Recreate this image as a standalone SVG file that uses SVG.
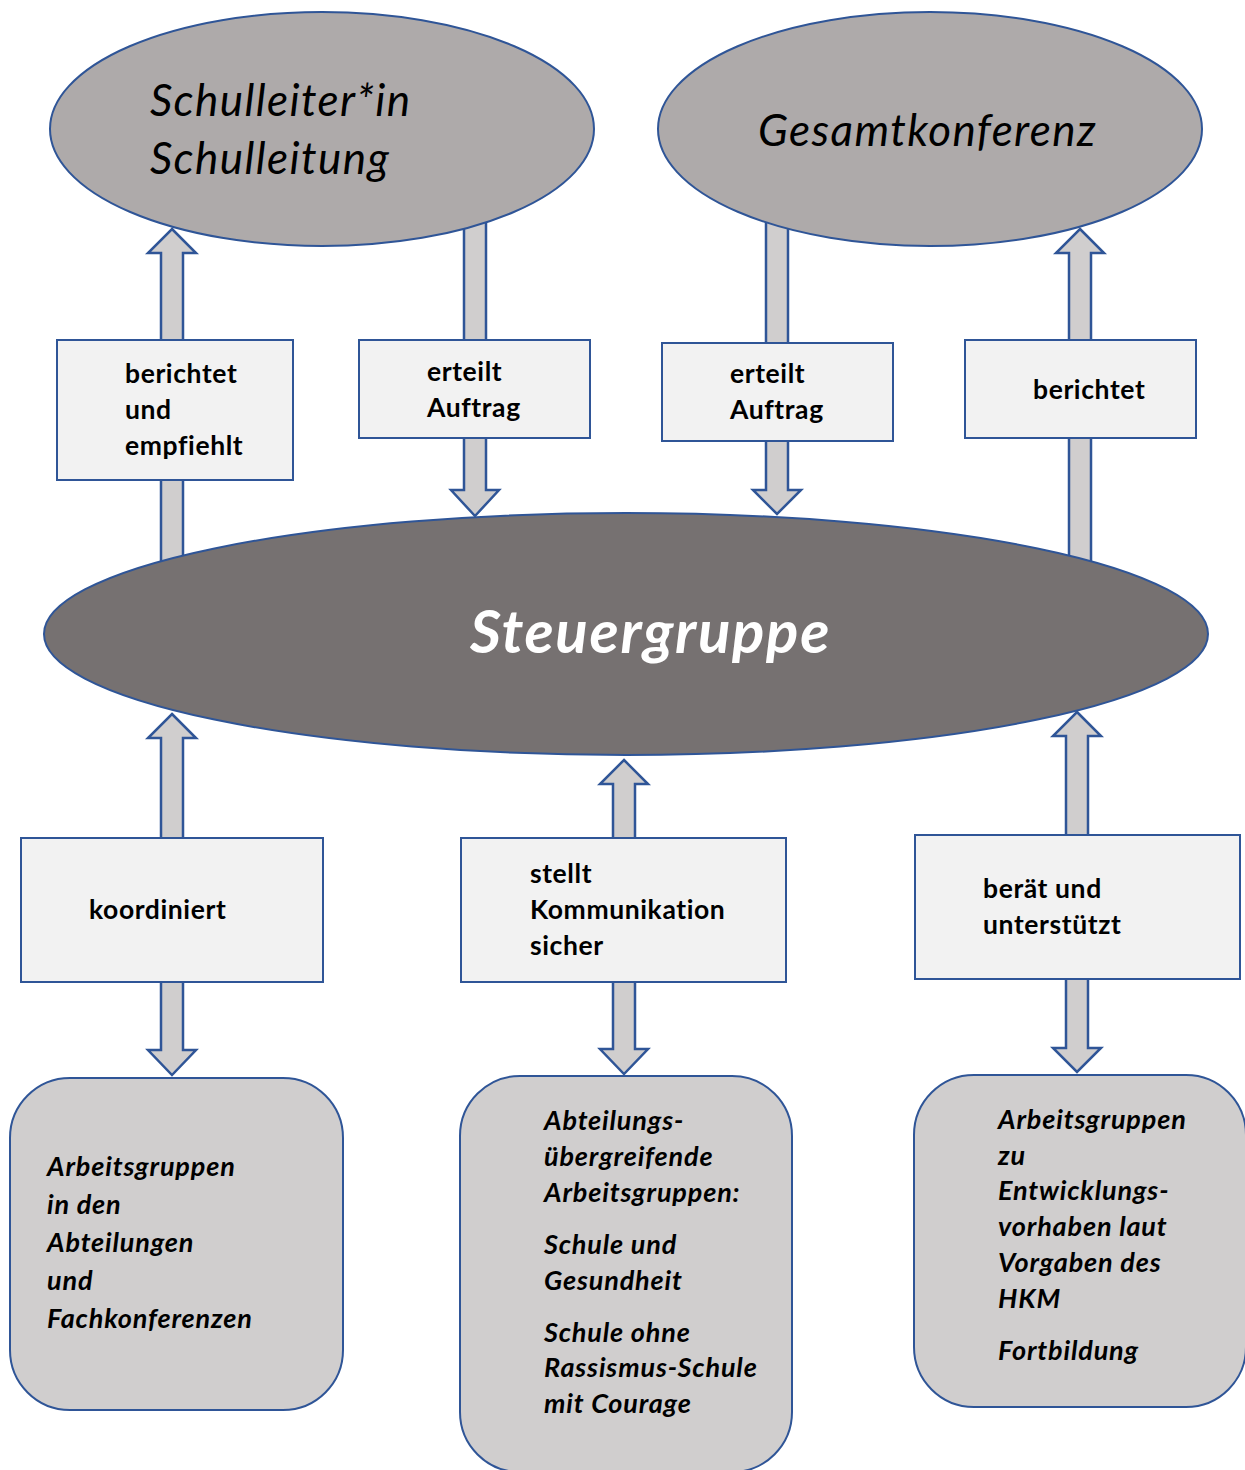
<svg xmlns="http://www.w3.org/2000/svg" width="1245" height="1470" viewBox="0 0 1245 1470">
<style>
.arrow{fill:#D0CECE;stroke:#2F5597;stroke-width:2.5;stroke-linejoin:miter}
.top{fill:#AEAAAA;stroke:#2F5597;stroke-width:2}
.steu{fill:#767171;stroke:#2F5597;stroke-width:2}
.box{fill:#F2F2F2;stroke:#2F5597;stroke-width:2}
.rr{fill:#D0CECE;stroke:#2F5597;stroke-width:2}
.lbl{font-family:Lato,"Liberation Sans",sans-serif;font-weight:bold;font-size:26.5px;letter-spacing:0.6px;fill:#000}
.grp{font-family:Lato,"Liberation Sans",sans-serif;font-weight:bold;font-style:italic;font-size:27px;letter-spacing:0.85px;fill:#000}
.big{font-family:Lato,"Liberation Sans",sans-serif;font-style:italic;font-size:44px;letter-spacing:1.4px;fill:#000}
</style>
<rect width="1245" height="1470" fill="#fff"/>
<g id="connectors-upper">
<polygon class="arrow" points="172,229 196,253 183,253 183,600 161,600 161,253 148,253"/>
<polygon class="arrow" points="464,150 486,150 486,490 499,490 475,516 451,490 464,490"/>
<polygon class="arrow" points="766,150 788,150 788,490 801,490 777,514 753,490 766,490"/>
<polygon class="arrow" points="1080,229 1104,253 1091,253 1091,600 1069,600 1069,253 1056,253"/>
</g>
<g id="schulleitung">
<ellipse class="top" cx="322" cy="129" rx="272" ry="117"/>
<text class="big" x="150" y="116">Schulleiter*in</text>
<text class="big" x="150" y="174">Schulleitung</text>
</g>
<g id="gesamtkonferenz">
<ellipse class="top" cx="930" cy="129" rx="272" ry="117"/>
<text class="big" x="758" y="146" font-size="45" letter-spacing="1.6">Gesamtkonferenz</text>
</g>
<g id="steuergruppe">
<ellipse class="steu" cx="626" cy="634" rx="582" ry="121"/>
<text x="470" y="653" font-family="Lato,'Liberation Sans',sans-serif" font-weight="bold" font-style="italic" font-size="60" letter-spacing="1.7" fill="#fff">Steuergruppe</text>
</g>
<g id="connectors-lower">
<polygon class="arrow" points="172,714 196,738 183,738 183,1050 196,1050 172,1075 148,1050 161,1050 161,738 148,738"/>
<polygon class="arrow" points="624,760 648,784 635,784 635,1049 648,1049 624,1074 600,1049 613,1049 613,784 600,784"/>
<polygon class="arrow" points="1077,712 1101,736 1088,736 1088,1048 1101,1048 1077,1072 1053,1048 1066,1048 1066,736 1053,736"/>
</g>
<g id="box-berichtet-empfiehlt">
<rect class="box" x="57" y="340" width="236" height="140"/>
<text class="lbl" x="125" y="383">berichtet</text>
<text class="lbl" x="125" y="419">und</text>
<text class="lbl" x="125" y="455">empfiehlt</text>
</g>
<g id="box-erteilt-1">
<rect class="box" x="359" y="340" width="231" height="98"/>
<text class="lbl" x="427" y="381">erteilt</text>
<text class="lbl" x="427" y="417">Auftrag</text>
</g>
<g id="box-erteilt-2">
<rect class="box" x="662" y="343" width="231" height="98"/>
<text class="lbl" x="730" y="383">erteilt</text>
<text class="lbl" x="730" y="419">Auftrag</text>
</g>
<g id="box-berichtet">
<rect class="box" x="965" y="340" width="231" height="98"/>
<text class="lbl" x="1033" y="399">berichtet</text>
</g>
<g id="box-koordiniert">
<rect class="box" x="21" y="838" width="302" height="144"/>
<text class="lbl" x="89" y="919">koordiniert</text>
</g>
<g id="box-kommunikation">
<rect class="box" x="461" y="838" width="325" height="144"/>
<text class="lbl" x="530" y="883">stellt</text>
<text class="lbl" x="530" y="919">Kommunikation</text>
<text class="lbl" x="530" y="955">sicher</text>
</g>
<g id="box-beraet">
<rect class="box" x="915" y="835" width="325" height="144"/>
<text class="lbl" x="983" y="898">berät und</text>
<text class="lbl" x="983" y="934">unterstützt</text>
</g>
<g id="ag-abteilungen">
<rect class="rr" x="10" y="1078" width="333" height="332" rx="60" ry="60"/>
<text class="grp" x="47" y="1176">Arbeitsgruppen</text>
<text class="grp" x="47" y="1214">in den</text>
<text class="grp" x="47" y="1252">Abteilungen</text>
<text class="grp" x="47" y="1290">und</text>
<text class="grp" x="47" y="1328">Fachkonferenzen</text>
</g>
<g id="ag-uebergreifend">
<rect class="rr" x="460" y="1076" width="332" height="396" rx="60" ry="60"/>
<text class="grp" x="544" y="1130">Abteilungs-</text>
<text class="grp" x="544" y="1166">übergreifende</text>
<text class="grp" x="544" y="1202">Arbeitsgruppen:</text>
<text class="grp" x="544" y="1254">Schule und</text>
<text class="grp" x="544" y="1290">Gesundheit</text>
<text class="grp" x="544" y="1342">Schule ohne</text>
<text class="grp" x="544" y="1377">Rassismus-Schule</text>
<text class="grp" x="544" y="1413">mit Courage</text>
</g>
<g id="ag-entwicklung">
<rect class="rr" x="914" y="1075" width="332" height="332" rx="60" ry="60"/>
<text class="grp" x="998" y="1129">Arbeitsgruppen</text>
<text class="grp" x="998" y="1165">zu</text>
<text class="grp" x="998" y="1200">Entwicklungs-</text>
<text class="grp" x="998" y="1236">vorhaben laut</text>
<text class="grp" x="998" y="1272">Vorgaben des</text>
<text class="grp" x="998" y="1308">HKM</text>
<text class="grp" x="998" y="1360">Fortbildung</text>
</g>
</svg>
